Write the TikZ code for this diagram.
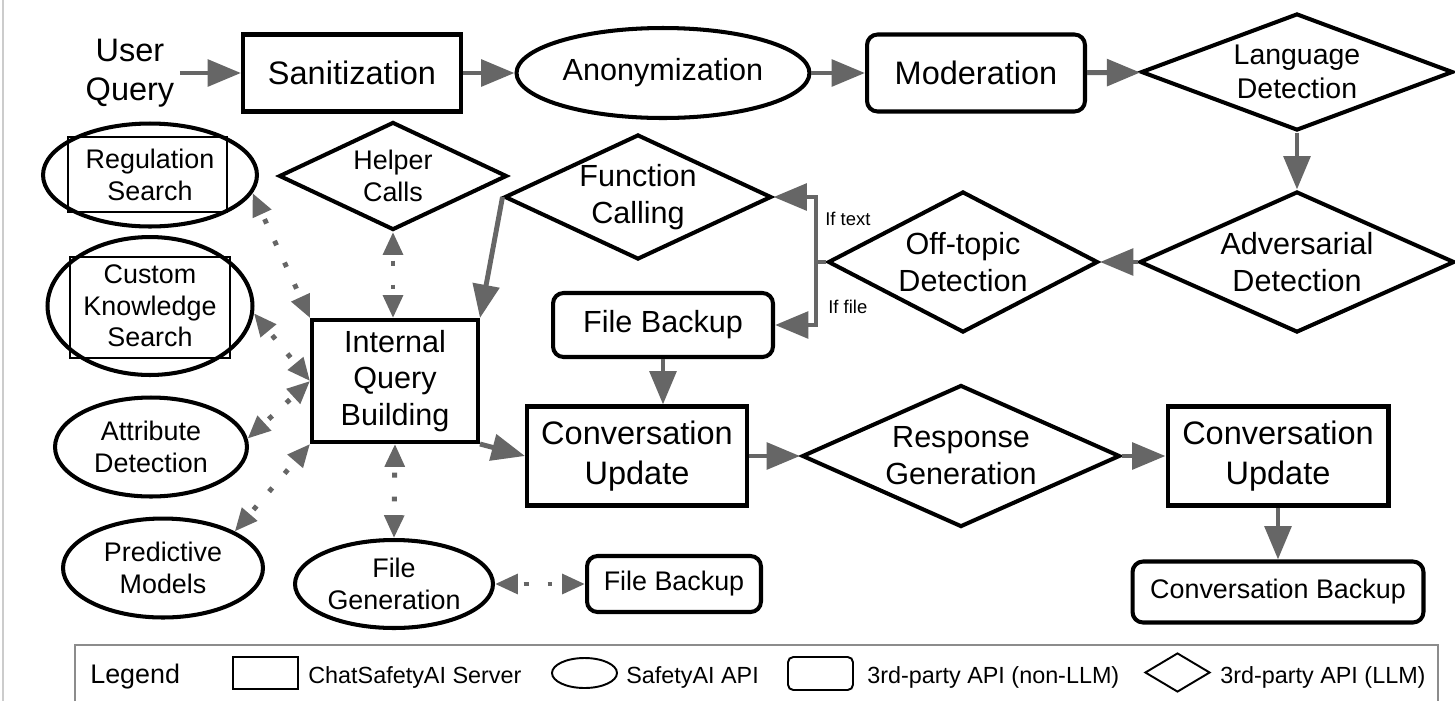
\documentclass[tikz,border=0pt]{standalone}
\usepackage{fontspec}
\setmainfont{Liberation Sans}
\usepackage{tikz}
\usetikzlibrary{shapes.geometric, arrows.meta}
\definecolor{linkgray}{RGB}{102,102,102}
\definecolor{framegray}{RGB}{140,140,140}

\tikzset{
  box/.style={draw=black, line width=2.3pt, align=center, inner sep=0pt},
  roundbox/.style={box, rounded corners=6pt},
  oval/.style={ellipse, draw=black, line width=2.3pt, align=center, inner sep=0pt},
  decision/.style={diamond, draw=black, line width=2.3pt, align=center, inner sep=0pt},
  flow/.style={draw=linkgray, line width=2.8pt, -{Triangle[length=19pt, width=15pt]}},
  dotlink/.style={draw=linkgray, line width=2.8pt, dash pattern=on 2.8pt off 10.8pt, dash phase=-4pt,
    {Triangle[length=13pt, width=11pt]}-{Triangle[length=13pt, width=11pt]}},
  big/.style={font=\fontsize{18.5}{22.5}\selectfont},
  mid/.style={font=\fontsize{17.4}{21}\selectfont},
  small/.style={font=\fontsize{15.3}{17.8}\selectfont},
  keytext/.style={font=\fontsize{13.3}{16}\selectfont, anchor=base west, inner sep=0pt},
  keyshape/.style={draw=black, line width=1.1pt, inner sep=0pt}
}

\begin{document}
\begin{tikzpicture}[x=0.02cm, y=-0.02cm]
    \useasboundingbox (0,0) rectangle (1455,701);
    \draw[black!20, line width=1.7pt] (3,0) -- (3,701);

    % top row
    \node[big, align=center, inner sep=3pt] (user) at (130,73) {User\\Query};
    \node[box, big, minimum width=4.36cm, minimum height=1.54cm] (san) at (352,73) {Sanitization};
    \node[oval, mid, minimum width=5.86cm, minimum height=1.8cm] (anon) at (663,73) {Anonymization};
    \node[roundbox, big, minimum width=4.36cm, minimum height=1.54cm] (mod) at (976,73) {Moderation};
    \node[decision, font=\fontsize{16.2}{19.5}\selectfont, aspect=2.67, minimum width=6.24cm, minimum height=2.34cm] (lang) at (1297,72) {Language\\Detection};
    \node[decision, mid, aspect=2.23, minimum width=6.3cm, minimum height=2.82cm] (adv) at (1297,262) {Adversarial\\Detection};
    \node[decision, mid, aspect=1.91, minimum width=5.4cm, minimum height=2.82cm] (off) at (963,262) {Off-topic\\Detection};
    \node[decision, mid, aspect=2.14, minimum width=5.34cm, minimum height=2.5cm] (func) at (638,197) {Function\\Calling};
    \node[roundbox, mid, minimum width=4.4cm, minimum height=1.28cm] (fbkmid) at (663,325) {File Backup};
    \node[font=\fontsize{10.5}{12}\selectfont, anchor=base west, inner sep=0pt] (iftext) at (825,225) {If text};
    \node[font=\fontsize{10.5}{12}\selectfont, anchor=base west, inner sep=0pt] (iffile) at (828,313) {If file};

    % helpers round the query builder
    \node[decision, small, aspect=2.11, minimum width=4.56cm, minimum height=2.16cm] (helper) at (393,176) {Helper\\Calls};
    \node[oval, small, minimum width=4.28cm, minimum height=2.06cm] (reg) at (150,175) {Regulation\\Search};
    \node[keyshape, line width=1.2pt, minimum width=3.18cm, minimum height=1.5cm] (reginner) at (147.5,174.5) {};
    \node[oval, small, minimum width=4.1cm, minimum height=2.76cm] (cks) at (150,306) {Custom\\Knowledge\\Search};
    \node[keyshape, line width=1.2pt, minimum width=3.2cm, minimum height=2.02cm] (cksinner) at (150,307.5) {};
    \node[oval, small, minimum width=3.84cm, minimum height=1.98cm] (attr) at (151,447) {Attribute\\Detection};
    \node[oval, small, minimum width=4cm, minimum height=1.98cm] (pred) at (163,568) {Predictive\\Models};
    \node[box, mid, minimum width=3.32cm, minimum height=2.44cm] (iqb) at (395,381) {Internal\\Query\\Building};
    \node[oval, small, minimum width=3.96cm, minimum height=1.76cm] (fgen) at (394,584) {File\\Generation};
    \node[roundbox, small, minimum width=3.48cm, minimum height=1.12cm] (fbklow) at (674,584) {File Backup};

    % response row
    \node[box, big, minimum width=4.4cm, minimum height=1.98cm] (convone) at (637,456) {Conversation\\Update};
    \node[decision, mid, aspect=2.24, minimum width=6.36cm, minimum height=2.84cm] (resp) at (961,456) {Response\\Generation};
    \node[box, big, minimum width=4.42cm, minimum height=1.98cm] (convtwo) at (1278,456) {Conversation\\Update};
    \node[roundbox, small, minimum width=5.82cm, minimum height=1.22cm] (cbk) at (1278,592) {Conversation Backup};

    \draw[flow] (user) -- (san);
    \draw[flow] (san) -- (anon);
    \draw[flow] (anon) -- (mod);
    \draw[flow] (mod) -- (lang);
    \draw[flow] (lang) -- (adv);
    \draw[flow] (adv) -- (off);
    \draw[flow] (off.west) -- ++(-10,0) |- (func.east);
    \draw[flow] (off.west) -- ++(-10,0) |- (fbkmid.east);
    \draw[flow] (func.west) -- (iqb.north east);
    \draw[flow] (iqb.south east) -- (convone.west);
    \draw[flow] (fbkmid.south) -- (fbkmid.south |- convone.north);
    \draw[flow] (convone) -- (resp);
    \draw[flow] (resp) -- (convtwo);
    \draw[flow] (convtwo) -- (cbk);

    \draw[dotlink] (reg.-10) -- (iqb.north west);
    \draw[dotlink] (cks.-4) -- (iqb.west);
    \draw[dotlink] (attr.5) -- (iqb.west);
    \draw[dotlink] (pred.27) -- (iqb.south west);
    \draw[dotlink] (helper.south) -- (helper.south |- iqb.north);
    \draw[dotlink] (iqb.south) -- (fgen.north);
    \draw[dotlink] (fgen.east) -- (fbklow.west);

    % legend
    \draw[framegray, line width=1.2pt] (75,701) -- (75,645) -- (1438,645) -- (1438,701);
    \node[font=\fontsize{15.3}{18}\selectfont, anchor=base west, inner sep=0pt] (legend) at (90,683) {Legend};
    \node[keyshape, minimum width=1.3cm, minimum height=0.64cm] (keyserver) at (265.5,673) {};
    \node[keytext] (txtserver) at (308,683) {ChatSafetyAI Server};
    \node[keyshape, ellipse, minimum width=1.3cm, minimum height=0.6cm] (keyapi) at (584.5,673) {};
    \node[keytext] (txtapi) at (626,683) {SafetyAI API};
    \node[keyshape, rounded corners=3pt, minimum width=1.3cm, minimum height=0.66cm] (keynonllm) at (820.5,673.5) {};
    \node[keytext] (txtnonllm) at (867,683) {3rd-party API (non-LLM)};
    \node[keyshape, diamond, aspect=1.67, minimum width=1.3cm, minimum height=0.78cm] (keyllm) at (1177.5,672.5) {};
    \node[keytext] (txtllm) at (1220,683) {3rd-party API (LLM)};
\end{tikzpicture}
\end{document}
